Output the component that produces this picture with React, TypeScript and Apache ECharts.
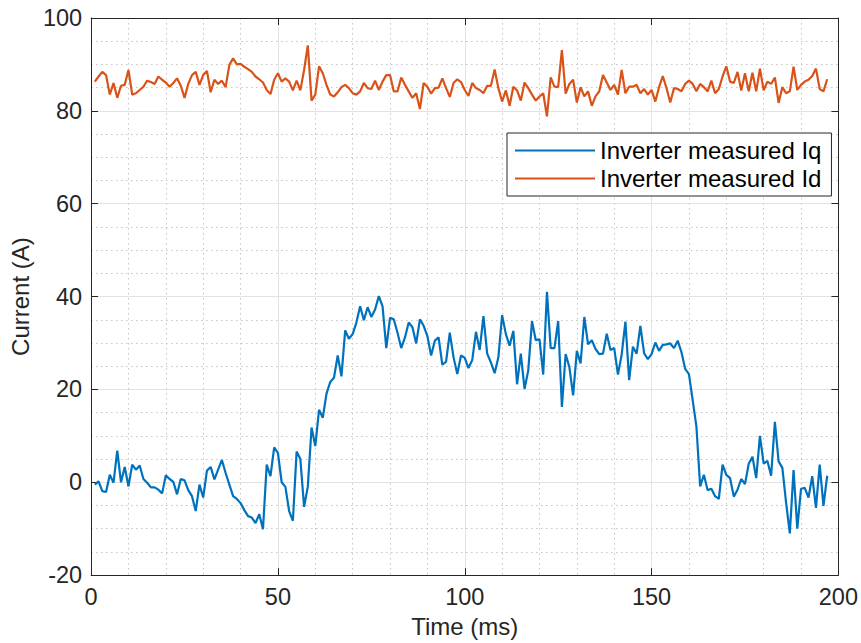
import React, { useEffect, useRef } from "react";
import * as echarts from "echarts";

// Sampling of the measured signals (ms)
const SAMPLE_START_MS = 1;
const SAMPLE_STEP_MS = 1;

const iqValues = [
  -0.5, 0.2, -1.9, -2.1, 1.6, -0.1, 6.8, 0, 3.3, -0.9,
  3.8, 2.7, 3.6, 0.7, -0.1, -1.1, -1.1, -1.6, -2.4, 1.5,
  0.7, 0.1, -2.6, 0.7, 0.4, -1.7, -3.0, -6.2, -0.5, -3.3,
  2.5, 3.3, 0.6, 2.7, 4.8, 2.0, -0.5, -3.0, -3.6, -4.5,
  -6.0, -7.3, -7.6, -8.8, -6.9, -10.1, 3.8, 1.3, 7.5, 6.3,
  0.0, -1.0, -6.2, -8.3, 6.6, 5.0, -5.3, -0.9, 11.8, 7.8,
  15.6, 13.9, 19.1, 21.6, 22.5, 27.3, 22.8, 32.7, 30.9, 31.9,
  34.4, 37.9, 34.9, 37.7, 35.6, 37.2, 40.1, 37.9, 28.9, 35.4,
  35.1, 32.2, 28.9, 31.2, 34.4, 33.4, 29.9, 35.1, 33.7, 31.5,
  27.3, 30.5, 31.2, 25.3, 26.0, 32.2, 26.9, 23.3, 27.3, 26.8,
  24.6, 26.3, 32.4, 28.5, 35.8, 27.7, 25.8, 23.5, 26.9, 36.0,
  31.9, 29.4, 32.6, 21.1, 27.7, 20.1, 24.1, 34.7, 30.6, 30.8,
  23.2, 41.0, 28.9, 28.9, 34.7, 16.2, 27.6, 24.8, 18.7, 28.3,
  25.6, 35.6, 29.7, 30.6, 28.7, 27.6, 27.7, 32.0, 28.5, 28.9,
  23.2, 27.5, 34.6, 22.0, 29.2, 27.7, 33.7, 27.8, 26.5, 27.6,
  30.1, 28.3, 29.6, 29.7, 29.9, 28.9, 30.5, 28.0, 24.4, 23.3,
  17.7, 12.0, -0.9, 1.6, -1.7, -1.4, -3.0, -3.6, 3.8, 1.6,
  0.9, -3.1, -1.6, 0.7, -0.4, 4.0, 5.5, 0.9, 10.0, 4.0,
  4.6, 1.4, 13.0, 4.5, 3.1, -4.4, -11.0, 2.6, -10.0, -1.4,
  -1.2, -3.3, 1.3, -5.5, 3.8, -5.1, 1.4,
];

const idValues = [
  86.3, 87.4, 88.4, 87.7, 83.5, 86.0, 82.8, 85.4, 85.6, 88.8,
  83.5, 83.8, 84.5, 85.2, 86.5, 86.2, 85.8, 87.4, 86.7, 86.1,
  85.2, 86.0, 87.0, 85.4, 82.8, 85.8, 87.7, 88.4, 85.6, 87.7,
  88.6, 84.0, 86.7, 85.8, 86.5, 85.1, 89.9, 91.3, 90.0, 90.1,
  89.5, 89.0, 88.4, 87.4, 86.8, 86.1, 84.5, 83.6, 86.7, 88.1,
  86.3, 87.0, 86.3, 84.4, 86.5, 84.4, 88.8, 94.1, 82.2, 83.5,
  89.6, 88.1, 85.6, 83.5, 83.1, 84.0, 85.1, 85.6, 84.9, 83.8,
  83.5, 84.2, 86.0, 84.9, 84.7, 86.5, 84.5, 86.3, 87.7, 87.7,
  84.2, 84.2, 87.2, 85.6, 84.2, 82.8, 83.8, 80.4, 86.0, 85.2,
  83.7, 84.9, 85.0, 87.0, 84.9, 83.0, 86.0, 86.8, 86.2, 84.5,
  83.2, 86.0, 84.9, 84.5, 83.8, 85.4, 85.4, 88.9, 84.9, 82.0,
  84.4, 81.1, 85.2, 84.4, 82.2, 86.1, 84.9, 83.5, 82.2, 83.1,
  83.8, 78.8, 87.2, 85.2, 85.1, 93.1, 83.7, 85.8, 86.7, 81.8,
  85.1, 83.1, 84.2, 81.1, 83.1, 84.2, 87.7, 86.1, 84.5, 85.6,
  83.5, 88.8, 83.8, 85.2, 85.2, 85.6, 83.8, 84.7, 83.5, 84.5,
  82.0, 85.1, 87.5, 84.9, 81.8, 84.9, 84.7, 84.2, 85.8, 86.5,
  85.8, 84.2, 85.8, 85.1, 84.2, 86.5, 83.8, 84.7, 87.4, 89.6,
  86.3, 86.0, 88.4, 84.4, 88.1, 84.2, 88.2, 84.2, 89.1, 84.4,
  86.3, 85.8, 87.2, 81.7, 85.1, 83.8, 84.2, 89.5, 84.5, 85.6,
  86.3, 86.7, 87.5, 89.1, 84.7, 84.2, 86.8,
];

const seriesNames = ["Inverter measured Iq", "Inverter measured Id"];
const seriesColors = ["#0072BD", "#D95319"];

const xRange = { min: 0, max: 200, interval: 50 };
const yRange = { min: -20, max: 100, interval: 20 };

const FONT = '"Liberation Sans", Arial, Helvetica, sans-serif';
const AXIS_COLOR = "#262626";

export default function App() {
  const ref = useRef<HTMLDivElement>(null);

  useEffect(() => {
    document.body.style.margin = "0";
    if (!ref.current) return;
    const chart = echarts.init(ref.current, undefined, { renderer: "svg" });

    const toPairs = (vals: number[]) =>
      vals.map((v, i) => [SAMPLE_START_MS + i * SAMPLE_STEP_MS, v]);

    const tickStyle = { inside: true, length: 7, lineStyle: { color: AXIS_COLOR, width: 1 } };
    const lineAxis = { show: true, lineStyle: { color: AXIS_COLOR, width: 1 } };
    const majorSplit = { show: true, lineStyle: { color: "#e3e3e3", width: 1 } };
    const minorSplit = { show: true, lineStyle: { color: "#c4c4c4", width: 1, type: [1.5, 3.5] } };

    chart.setOption({
      animation: false,
      backgroundColor: "#ffffff",
      grid: { left: 89, top: 18, right: 22, bottom: 63, containLabel: false },
      legend: {
        orient: "vertical",
        left: 507,
        top: 133,
        icon: "rect",
        itemWidth: 80,
        itemHeight: 2,
        itemGap: 0,
        padding: [3.5, 10, 3.5, 8],
        backgroundColor: "#ffffff",
        borderColor: AXIS_COLOR,
        borderWidth: 1,
        textStyle: { fontSize: 24, lineHeight: 28, color: "#000000", fontFamily: FONT },
        data: seriesNames,
      },
      xAxis: [
        {
          type: "value",
          ...xRange,
          name: "Time (ms)",
          nameLocation: "middle",
          nameGap: 38,
          nameTextStyle: { fontSize: 24, color: AXIS_COLOR, fontFamily: FONT },
          axisLine: { ...lineAxis, onZero: false },
          axisTick: tickStyle,
          axisLabel: { fontSize: 23.5, color: AXIS_COLOR, fontFamily: FONT, margin: 10 },
          splitLine: majorSplit,
          minorTick: { show: false, splitNumber: 5 },
          minorSplitLine: minorSplit,
        },
        {
          type: "value",
          position: "top",
          ...xRange,
          axisLine: { ...lineAxis, onZero: false },
          axisTick: tickStyle,
          axisLabel: { show: false },
          splitLine: { show: false },
        },
      ],
      yAxis: [
        {
          type: "value",
          ...yRange,
          name: "Current (A)",
          nameLocation: "middle",
          nameGap: 47,
          nameTextStyle: { fontSize: 24, color: AXIS_COLOR, fontFamily: FONT },
          axisLine: { ...lineAxis, onZero: false },
          axisTick: tickStyle,
          axisLabel: { fontSize: 23.5, color: AXIS_COLOR, fontFamily: FONT, margin: 9 },
          splitLine: majorSplit,
          minorTick: { show: false, splitNumber: 4 },
          minorSplitLine: minorSplit,
        },
        {
          type: "value",
          position: "right",
          ...yRange,
          axisLine: { ...lineAxis, onZero: false },
          axisTick: tickStyle,
          axisLabel: { show: false },
          splitLine: { show: false },
        },
      ],
      series: [
        {
          name: seriesNames[0],
          type: "line",
          data: toPairs(iqValues),
          showSymbol: false,
          symbol: "none",
          color: seriesColors[0],
          lineStyle: { color: seriesColors[0], width: 2.2 },
          z: 3,
        },
        {
          name: seriesNames[1],
          type: "line",
          data: toPairs(idValues),
          showSymbol: false,
          symbol: "none",
          color: seriesColors[1],
          lineStyle: { color: seriesColors[1], width: 2.2 },
          z: 3,
        },
      ],
    });

    return () => chart.dispose();
  }, []);

  return <div ref={ref} style={{ width: 861, height: 643 }} />;
}
